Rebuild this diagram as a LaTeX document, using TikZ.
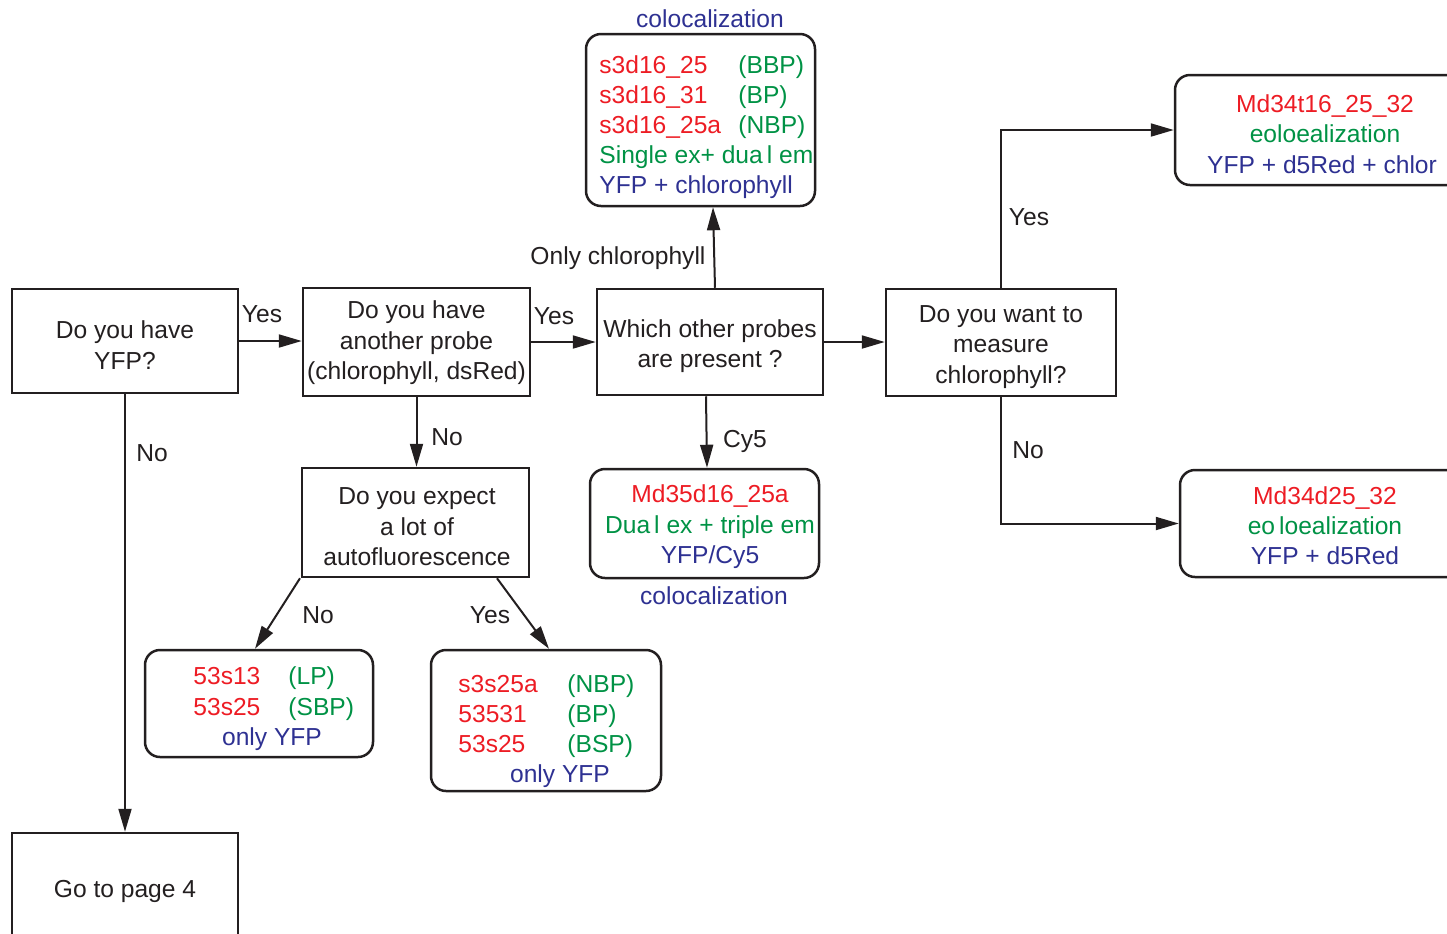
\documentclass[tikz,border=0pt]{standalone}
\usepackage{fontspec}
\setmainfont{Liberation Sans}
\usetikzlibrary{arrows.meta}
\definecolor{cred}{RGB}{237,28,36}
\definecolor{cgreen}{RGB}{0,146,69}
\definecolor{cblue}{RGB}{46,49,146}
\definecolor{ink}{RGB}{35,31,32}
\newcommand\fsz{\fontsize{12.3pt}{15pt}\selectfont}
\newcommand\fszb{\fontsize{12.3pt}{15.25pt}\selectfont}
\newcommand\rd[1]{\textcolor{cred}{#1}}
\newcommand\gr[1]{\textcolor{cgreen}{#1}}
\newcommand\bl[1]{\textcolor{cblue}{#1}}
\begin{document}
\begin{tikzpicture}[x=0.5pt,y=-0.5pt,
  box/.style={draw=ink, line width=1.25pt, inner sep=0pt},
  rbox/.style={box, rounded corners=7.5pt},
  btxt/.style={align=center, text=ink, font=\fszb, inner sep=0pt},
  arr/.style={draw=ink, line width=1pt, -{Triangle[length=11.5pt,width=6.5pt]}},
  lbl/.style={text=ink, font=\fsz, inner sep=0pt, text height=8.8pt, text depth=0pt},
  ln/.style={font=\fsz, inner sep=0pt, text height=8.8pt, text depth=0pt, anchor=west},
  lc/.style={ln, anchor=center}]
\useasboundingbox (0,0) rectangle (1447,933);
\clip (0,0) rectangle (1447,933);
% decision boxes
\node[box, minimum width=113pt, minimum height=52pt] (A) at (125,341) {};
\node[box, minimum width=113.5pt, minimum height=54pt] (B) at (416.5,342) {};
\node[box, minimum width=113pt, minimum height=53pt] (C) at (710,342) {};
\node[box, minimum width=115pt, minimum height=53.5pt] (D) at (1001,342.5) {};
\node[box, minimum width=113.5pt, minimum height=54.5pt] (E) at (415.5,522.5) {};
\node[box, minimum width=113pt, minimum height=58.5pt] (L) at (125,891.5) {};
\node[btxt] (At) at (125,345) {Do you have\\YFP?};
\node[btxt] (Bt) at (416.5,343) {Do you have\\another probe\\(chlorophyll, dsRed)};
\node[btxt] (Ct) at (710,346) {Which other probes\\are present ?};
\node[btxt] (Dt) at (1001,347) {Do you want to\\measure\\chlorophyll?};
\node[btxt] (Et) at (417,527) {Do you expect\\a lot of\\autofluorescence};
\node[btxt] (Lt) at (125,891.5) {Go to page 4};
% result boxes
\node[rbox, minimum width=114.5pt, minimum height=86pt] (F) at (700.5,120) {};
\node[rbox, minimum width=114.5pt, minimum height=54.5pt] (G) at (704.5,523.5) {};
\node[rbox, minimum width=152.5pt, minimum height=55pt] (H) at (1327.5,130) {};
\node[rbox, minimum width=150pt, minimum height=53.5pt] (I) at (1330,523.5) {};
\node[rbox, minimum width=114pt, minimum height=53.5pt] (J) at (259,703.5) {};
\node[rbox, minimum width=115pt, minimum height=70.5pt] (K) at (546,720.5) {};
% texts of F
\node[ln] (f1) at (599,65) {\makebox[69.5pt][l]{\rd{s3d16\_25}}\gr{(BBP)}};
\node[ln] (f2) at (599,95) {\makebox[69.5pt][l]{\rd{s3d16\_31}}\gr{(BP)}};
\node[ln] (f3) at (599,125) {\makebox[69.5pt][l]{\rd{s3d16\_25a}}\gr{(NBP)}};
\node[ln] (f4) at (599,155) {\gr{Single ex+ dua\kern2pt l em}};
\node[ln] (f5) at (599,185) {\bl{YFP + chlorophyll}};
\node[lc] (ftop) at (710,19) {\bl{colocalization}};
% texts of G
\node[lc] (g1) at (710,494) {\rd{Md35d16\_25a}};
\node[lc] (g2) at (710,525) {\gr{Dua\kern2pt l ex + triple em}};
\node[lc] (g3) at (710,555) {\bl{YFP/Cy5}};
\node[lc] (gbot) at (714,596) {\bl{colocalization}};
% texts of H
\node[lc] (h1) at (1325,104) {\rd{Md34t16\_25\_32}};
\node[lc] (h2) at (1325,134) {\gr{eoloealization}};
\node[lc] (h3) at (1322,165) {\bl{YFP + d5Red + chlor}};
% texts of I
\node[lc] (i1) at (1325,496) {\rd{Md34d25\_32}};
\node[lc] (i2) at (1325,526) {\gr{eo\kern2pt loealization}};
\node[lc] (i3) at (1325,556) {\bl{YFP + d5Red}};
% texts of J
\node[ln] (j1) at (193,676) {\makebox[47.5pt][l]{\rd{53s13}}\gr{(LP)}};
\node[ln] (j2) at (193,707) {\makebox[47.5pt][l]{\rd{53s25}}\gr{(SBP)}};
\node[lc] (j3) at (272,737) {\bl{only YFP}};
% texts of K
\node[ln] (k1) at (458,684) {\makebox[54.5pt][l]{\rd{s3s25a}}\gr{(NBP)}};
\node[ln] (k2) at (458,714) {\makebox[54.5pt][l]{\rd{53531}}\gr{(BP)}};
\node[ln] (k3) at (458,744) {\makebox[54.5pt][l]{\rd{53s25}}\gr{(BSP)}};
\node[lc] (k4) at (560,774) {\bl{only YFP}};
% connectors
\draw[arr] (A.east) -- (A.east -| B.west);
\draw[arr] (B.east) -- (B.east -| C.west);
\draw[arr] (C.east) -- (C.east -| D.west);
\draw[arr] ([xshift=2.5pt]C.north) -- ([xshift=6.25pt]F.south);
\draw[arr] ([xshift=-2pt]C.south) -- ([xshift=1.25pt]G.north);
\draw[arr] (B.south) -- (B.south |- E.north);
\draw[arr] (A.south) -- (L.north);
\draw[arr] ([xshift=-57.75pt]E.south) -- ([xshift=-2pt]J.north);
\draw[arr] ([xshift=40.75pt]E.south) -- ([xshift=1.5pt]K.north);
\draw[arr] (D.north) |- (H.west);
\draw[arr] (D.south) |- (I.west);
% connector labels
\node[lbl] (yes1) at (262,314) {Yes};
\node[lbl] (yes2) at (554,316) {Yes};
\node[lbl] (onlychl) at (618,256) {Only chlorophyll};
\node[lbl] (no1) at (447,437) {No};
\node[lbl] (no2) at (152,453) {No};
\node[lbl] (cy5) at (745,439) {Cy5};
\node[lbl] (no3) at (318,615) {No};
\node[lbl] (yes3) at (490,615) {Yes};
\node[lbl] (yes4) at (1029,217) {Yes};
\node[lbl] (no4) at (1028,450) {No};
\end{tikzpicture}
\end{document}
